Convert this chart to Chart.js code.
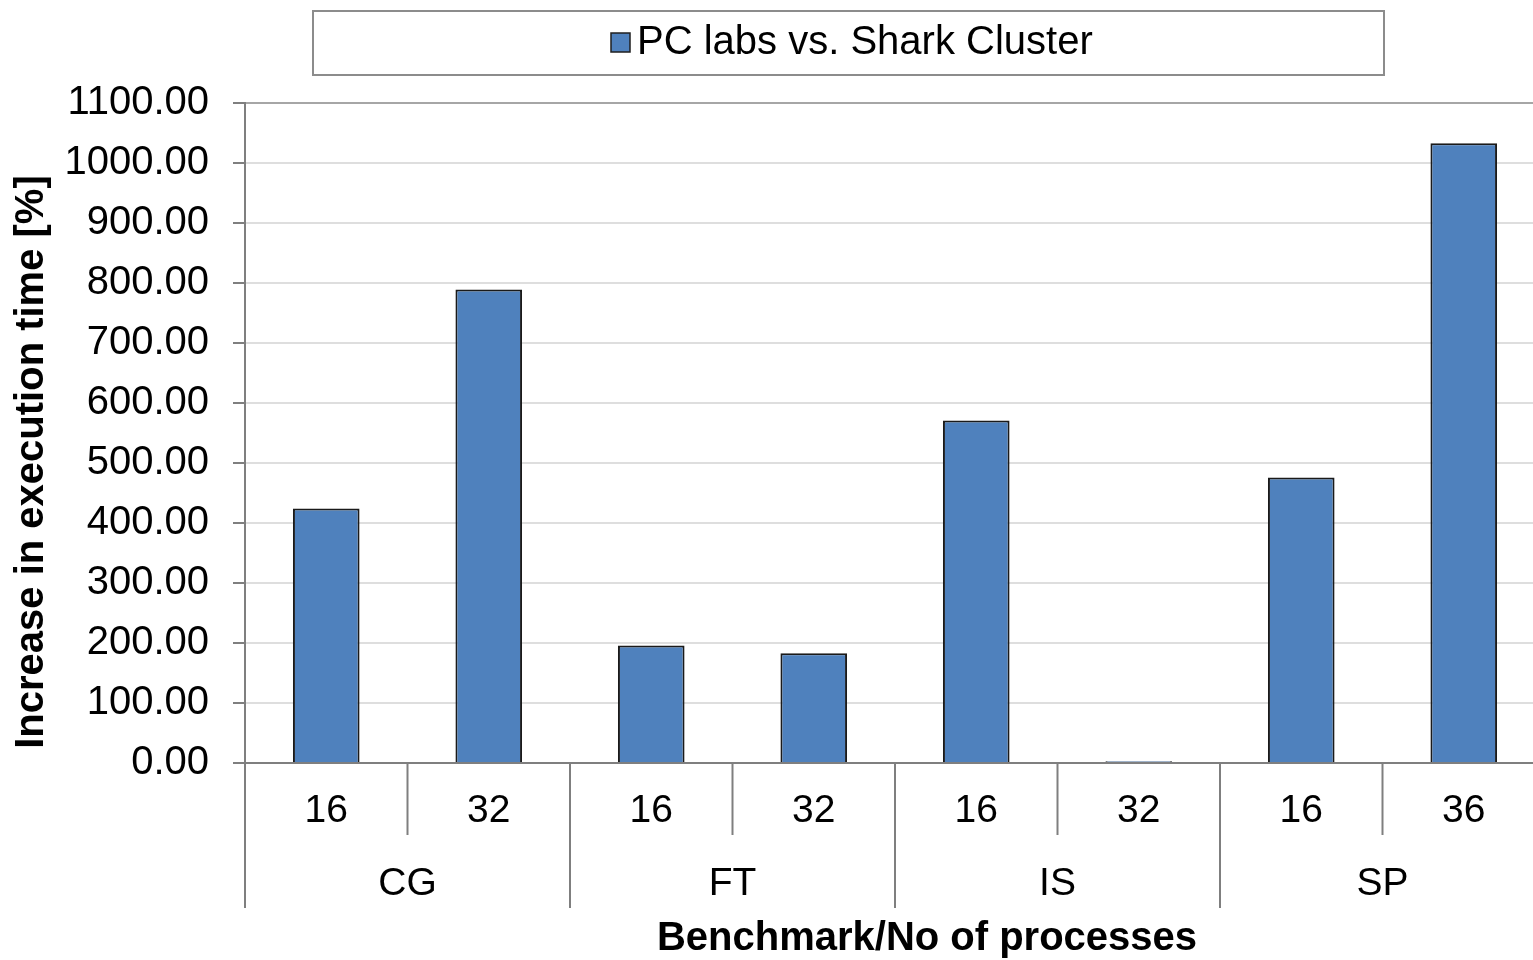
<!DOCTYPE html>
<html>
<head>
<meta charset="utf-8">
<script src="https://cdn.jsdelivr.net/npm/chart.js@4/dist/chart.umd.min.js"></script>
<style>
  html, body { margin: 0; padding: 0; background: #fff; overflow: hidden; }
  #wrap { width: 1550px; height: 960px; }
</style>
</head>
<body>
<div id="wrap"><canvas id="chart"></canvas></div>
<script>
const benchmarks = ['CG', 'FT', 'IS', 'SP'];
const processes = ['16', '32', '16', '32', '16', '32', '16', '36'];
const increase = [424, 789, 196, 183, 571, 3, 476, 1033];
const seriesName = 'PC labs vs. Shark Cluster';
const yTitle = 'Increase in execution time [%]';
const xTitle = 'Benchmark/No of processes';

const FONT = "'Liberation Sans', Arial, sans-serif";
const BLUE = '#4f81bd';

// group labels, separators, titles and boxed legend
const decorations = {
  id: 'decorations',
  afterDraw(chart) {
    const ctx = chart.ctx;
    const x = chart.scales.x;
    const area = chart.chartArea;
    const half = (x.getPixelForValue(1) - x.getPixelForValue(0)) / 2;
    ctx.save();
    ctx.strokeStyle = '#7f7f7f';
    ctx.lineWidth = 2;
    for (let i = 0; i < processes.length; i++) {
      const bx = x.getPixelForValue(i) - half;
      const end = i % 2 === 0 ? area.bottom + 145 : area.bottom + 72;
      ctx.beginPath();
      ctx.moveTo(bx, area.bottom);
      ctx.lineTo(bx, end);
      ctx.stroke();
    }
    ctx.fillStyle = '#000';
    ctx.font = '39px ' + FONT;
    ctx.textAlign = 'center';
    ctx.textBaseline = 'middle';
    benchmarks.forEach((b, i) => {
      const cx = x.getPixelForValue(i * 2) + half;
      ctx.fillText(b, cx, area.bottom + 121);
    });
    ctx.font = 'bold 40px ' + FONT;
    ctx.fillText(xTitle, 927, 939);
    ctx.save();
    ctx.translate(32, 462);
    ctx.rotate(-Math.PI / 2);
    ctx.fillText(yTitle, 0, 0);
    ctx.restore();

    // legend box
    ctx.strokeStyle = '#8c8c8c';
    ctx.lineWidth = 2;
    ctx.strokeRect(313, 11, 1071, 64);
    ctx.fillStyle = BLUE;
    ctx.fillRect(611, 33, 19, 19);
    ctx.strokeStyle = '#1f1f1f';
    ctx.lineWidth = 1.5;
    ctx.strokeRect(611, 33, 19, 19);
    ctx.fillStyle = '#000';
    ctx.font = '40px ' + FONT;
    ctx.textAlign = 'left';
    ctx.fillText(seriesName, 637, 43);
    ctx.restore();
  }
};

new Chart(document.getElementById('chart'), {
  type: 'bar',
  data: {
    labels: processes,
    datasets: [{
      label: seriesName,
      data: increase,
      backgroundColor: BLUE,
      borderColor: '#1a1a1a',
      borderWidth: 2,
      barPercentage: 0.41,
      categoryPercentage: 1
    }]
  },
  options: {
    responsive: true,
    maintainAspectRatio: false,
    animation: false,
    layout: { padding: { top: 103, right: 5, left: 0, bottom: 0 } },
    plugins: {
      legend: { display: false },
      tooltip: { enabled: false }
    },
    scales: {
      x: {
        grid: { display: false, drawTicks: false },
        border: { display: true, color: '#7f7f7f', width: 2 },
        ticks: { color: '#000', font: { family: FONT, size: 39 }, padding: 25, maxRotation: 0 },
        afterFit(s) { s.height = 197; }
      },
      y: {
        min: 0,
        max: 1100,
        grid: {
          color: (c) => c.tick && c.tick.value === 1100 ? '#a6a6a6' : '#dedede',
          lineWidth: 2,
          tickLength: 12,
          tickColor: '#7f7f7f'
        },
        border: { display: true, color: '#7f7f7f', width: 2 },
        ticks: {
          stepSize: 100,
          color: '#000',
          font: { family: FONT, size: 40 },
          padding: 24,
          callback: (v) => Number(v).toFixed(2)
        },
        afterFit(s) { s.width = 245; }
      }
    }
  },
  plugins: [decorations]
});
</script>
</body>
</html>
